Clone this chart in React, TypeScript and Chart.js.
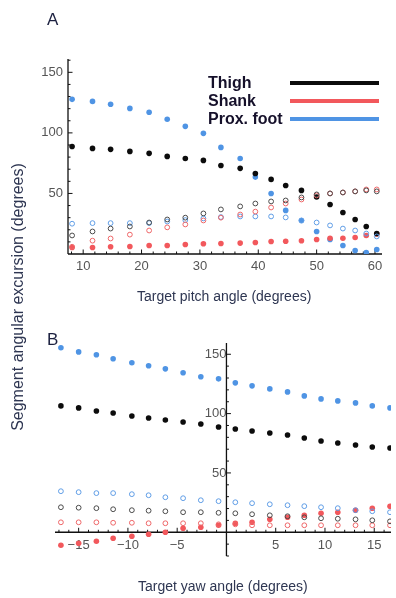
import React, { useEffect, useRef } from 'react';
import { Chart, registerables } from 'chart.js';

Chart.register(...registerables);
Chart.defaults.font.family = '"Liberation Sans", Arial, sans-serif';

// ---------- Panel A: target pitch angle ----------
const pitchAngles = [8.1, 11.6, 14.7, 18.0, 21.3, 24.4, 27.5, 30.6, 33.6, 36.9, 39.5, 42.2, 44.7, 47.4, 50.0, 52.3, 54.5, 56.6, 58.5, 60.3];
const pitchThighFilled = [88.8, 87.2, 86.4, 84.7, 83.1, 80.6, 78.9, 77.3, 73.1, 70.7, 66.5, 61.6, 56.6, 52.5, 47, 40.9, 34.3, 28.5, 22.7, 16.9];
const pitchShankFilled = [5.4, 5.4, 6, 6.2, 7, 7, 7.8, 8.5, 8.7, 9, 9.5, 10.3, 10.5, 11, 12, 13, 13, 13.6, 15.3, 16.5];
const pitchFootFilled = [127.7, 126, 123.6, 120.2, 117, 111.2, 105.4, 99.6, 88, 78.9, 63.5, 50, 36, 27.7, 18.6, 12, 7, 2.9, 1.2, 3.7];
const pitchThighOpen = [15.3, 18.6, 21, 22.7, 26, 28.5, 30, 33.5, 36.8, 39.3, 41.7, 43.4, 44.2, 46.7, 49.2, 50, 50.8, 51.7, 52.5, 51.7];
const pitchShankOpen = [6, 11, 12.8, 16, 19.4, 22, 24.4, 27.7, 30, 32.6, 35, 38.4, 41.7, 45, 48.4, 50, 50.8, 51.7, 53.3, 53.3];
const pitchFootOpen = [25, 25.5, 25.5, 25.5, 25.5, 26.8, 28, 29.4, 30.5, 31, 31, 31, 30.2, 27.7, 26, 23.6, 21, 19.4, 16.9, 14.5];

// ---------- Panel B: target yaw angle ----------
const yawAngles = [-16.8, -15.0, -13.2, -11.5, -9.6, -7.9, -6.2, -4.4, -2.6, -0.8, 0.9, 2.6, 4.4, 6.2, 7.9, 9.6, 11.3, 13.1, 14.8, 16.6];
const yawThighFilled = [106.5, 104.8, 102.2, 100.5, 98, 96.3, 94.6, 92.9, 91.2, 88.7, 87, 85.3, 83.6, 82, 79.4, 76.9, 75.2, 73.5, 71.8, 71];
const yawShankFilled = [-11, -9.3, -7.6, -5.1, -3.4, -1.7, 0, 3.4, 4.2, 5.9, 7.6, 8.4, 11, 12.6, 14.3, 16, 16.9, 18.6, 20.3, 21.9];
const yawFootFilled = [155.5, 152, 149.6, 146.2, 142.8, 140.3, 137.7, 134.4, 131, 129.3, 125.9, 123.4, 120.8, 118.3, 114.9, 112.4, 110.7, 109, 106.5, 104.8];
const yawThighOpen = [21.1, 20.7, 20.3, 19.4, 18.6, 18.2, 17.7, 16.9, 16.9, 16.4, 16, 15.2, 14.3, 13.5, 12.6, 11.8, 11.4, 10.9, 10.1, 9.2];
const yawShankOpen = [8.4, 8.4, 8.4, 8, 8, 7.6, 7.6, 7.6, 7.6, 6.7, 6.7, 5.9, 5.9, 5.9, 5.9, 5.9, 5.9, 5.9, 5.9, 5.9];
const yawFootOpen = [34.6, 33.8, 33, 33, 32.1, 31.2, 29.5, 28.7, 27, 26.2, 25.3, 24.5, 23.6, 22.8, 22, 21.1, 20.3, 18.6, 17.7, 16.9];

const legendLabels = ['Thigh', 'Shank', 'Prox. foot'];

const BLACK = '#0c0c0c';
const RED = '#f2585c';
const BLUE = '#4f94e4';
const BLACK_OPEN = '#4a4a4a';
const RED_OPEN = '#ee6668';
const BLUE_OPEN = '#5f9de6';
const legendColors = [BLACK, RED, BLUE];

const pts = (xs: number[], ys: number[]) => xs.map((x, i) => ({ x, y: ys[i] }));

const filled = (label: string, xs: number[], ys: number[], color: string) => ({
  label,
  data: pts(xs, ys),
  pointRadius: 2.8,
  pointBackgroundColor: color,
  pointBorderColor: color,
  pointBorderWidth: 0,
  showLine: false,
});
const open = (label: string, xs: number[], ys: number[], color: string) => ({
  label,
  data: pts(xs, ys),
  pointRadius: 2.4,
  pointBackgroundColor: 'rgba(0,0,0,0)',
  pointBorderColor: color,
  pointBorderWidth: 1,
  showLine: false,
});

const axesPlugin = {
  id: 'mathAxes',
  beforeDatasetsDraw(chart: any, _args: any, opts: any) {
    const { ctx, chartArea } = chart;
    const xs = chart.scales.x;
    const ys = chart.scales.y;
    const ax = opts.yAxisAtX == null ? chartArea.left : xs.getPixelForValue(opts.yAxisAtX);
    const ay = opts.xAxisAtY == null ? chartArea.bottom : ys.getPixelForValue(opts.xAxisAtY);
    ctx.save();
    ctx.strokeStyle = '#111';
    ctx.lineWidth = 1.3;
    ctx.beginPath();
    ctx.moveTo(chartArea.left, ay);
    ctx.lineTo(chartArea.right, ay);
    ctx.moveTo(ax, chartArea.top);
    ctx.lineTo(ax, chartArea.bottom);
    ctx.stroke();
    ctx.lineWidth = 1;
    ctx.beginPath();
    xs.ticks.forEach((t: any) => {
      const px = xs.getPixelForValue(t.value);
      if (Math.abs(px - ax) < 1) return;
      const len = t.label ? 4.5 : 2.5;
      ctx.moveTo(px, ay);
      ctx.lineTo(px, ay - len);
    });
    ys.ticks.forEach((t: any) => {
      const py = ys.getPixelForValue(t.value);
      if (Math.abs(py - ay) < 1) return;
      const len = t.label ? 4.5 : 2.5;
      ctx.moveTo(ax, py);
      ctx.lineTo(ax + len, py);
    });
    ctx.stroke();
    ctx.restore();
  },
};

const fmt = (v: number) => {
  const r = Math.round(v);
  return r < 0 ? '\u2212' + Math.abs(r) : String(r);
};
const isMult = (v: number, m: number) => Math.abs(v / m - Math.round(v / m)) < 1e-6;

const tickFont = { size: 13 };
const tickColor = '#555';

function makeA(canvas: HTMLCanvasElement) {
  return new Chart(canvas, {
    type: 'scatter',
    data: {
      datasets: [
        open('Thigh open', pitchAngles, pitchThighOpen, BLACK_OPEN),
        open('Shank open', pitchAngles, pitchShankOpen, RED_OPEN),
        open('Prox. foot open', pitchAngles, pitchFootOpen, BLUE_OPEN),
        filled('Thigh', pitchAngles, pitchThighFilled, BLACK),
        filled('Shank', pitchAngles, pitchShankFilled, RED),
        filled('Prox. foot', pitchAngles, pitchFootFilled, BLUE),
      ] as any,
    },
    options: {
      animation: false,
      responsive: false,
      events: [],
      layout: { padding: { left: 38, right: 14, top: 59, bottom: 26 } },
      plugins: {
        legend: { display: false },
        tooltip: { enabled: false },
        mathAxes: {},
      } as any,
      scales: {
        x: {
          type: 'linear',
          position: 'bottom',
          min: 7.4,
          max: 61.2,
          grid: { display: false, drawTicks: false },
          border: { display: false },
          ticks: {
            stepSize: 2,
            autoSkip: false,
            includeBounds: false,
            maxRotation: 0,
            padding: 5,
            font: tickFont,
            color: tickColor,
            callback: (v: any) => (isMult(Number(v), 10) ? fmt(Number(v)) : ''),
          },
          afterFit: (s: any) => { s.height = 20; },
        },
        y: {
          type: 'linear',
          position: 'left',
          min: 0,
          max: 161,
          grid: { display: false, drawTicks: false },
          border: { display: false },
          ticks: {
            stepSize: 10,
            autoSkip: false,
            includeBounds: false,
            padding: 5,
            font: tickFont,
            color: tickColor,
            callback: (v: any) => (isMult(Number(v), 50) && Number(v) !== 0 ? fmt(Number(v)) : ''),
          },
          afterFit: (s: any) => { s.width = 30; },
        },
      },
    } as any,
    plugins: [axesPlugin],
  });
}

function makeB(canvas: HTMLCanvasElement) {
  return new Chart(canvas, {
    type: 'scatter',
    data: {
      datasets: [
        open('Thigh open', yawAngles, yawThighOpen, BLACK_OPEN),
        open('Shank open', yawAngles, yawShankOpen, RED_OPEN),
        open('Prox. foot open', yawAngles, yawFootOpen, BLUE_OPEN),
        filled('Thigh', yawAngles, yawThighFilled, BLACK),
        filled('Shank', yawAngles, yawShankFilled, RED),
        filled('Prox. foot', yawAngles, yawFootFilled, BLUE),
      ] as any,
    },
    options: {
      animation: false,
      responsive: false,
      events: [],
      layout: { padding: { left: 55, right: 4, top: 43, bottom: 42 } },
      plugins: {
        legend: { display: false },
        tooltip: { enabled: false },
        mathAxes: { yAxisAtX: 0, xAxisAtY: 0 },
      } as any,
      scales: {
        x: {
          type: 'linear',
          position: { y: 0 },
          min: -17.4,
          max: 16.7,
          grid: { display: false, drawTicks: false },
          border: { display: false },
          ticks: {
            stepSize: 1,
            autoSkip: false,
            includeBounds: false,
            maxRotation: 0,
            padding: 5,
            font: tickFont,
            color: tickColor,
            callback: (v: any) => (isMult(Number(v), 5) && Number(v) !== 0 ? fmt(Number(v)) : ''),
          },
        },
        y: {
          type: 'linear',
          position: { x: 0 },
          min: -20,
          max: 159.5,
          grid: { display: false, drawTicks: false },
          border: { display: false },
          ticks: {
            stepSize: 10,
            autoSkip: false,
            includeBounds: false,
            padding: 3,
            font: tickFont,
            color: tickColor,
            callback: (v: any) => (isMult(Number(v), 50) && Number(v) > 0 ? fmt(Number(v)) : ''),
          },
        },
      },
    } as any,
    plugins: [axesPlugin],
  });
}

export default function App() {
  const refA = useRef<HTMLCanvasElement>(null);
  const refB = useRef<HTMLCanvasElement>(null);

  useEffect(() => {
    const a = makeA(refA.current!);
    const b = makeB(refB.current!);
    return () => { a.destroy(); b.destroy(); };
  }, []);

  const font = '"Liberation Sans", Arial, sans-serif';
  const titleColor = '#2e3652';

  return (
    <div style={{ position: 'absolute', left: 0, top: 0, width: 396, height: 598, background: '#fff', overflow: 'hidden', fontFamily: font }}>
      <canvas ref={refA} width={396} height={300} style={{ position: 'absolute', left: 0, top: 0 }} />
      <canvas ref={refB} width={396} height={298} style={{ position: 'absolute', left: 0, top: 300 }} />

      <div style={{ position: 'absolute', left: 47, top: 11, fontSize: 17, lineHeight: '17px', color: '#1c2140' }}>A</div>
      <div style={{ position: 'absolute', left: 47, top: 331, fontSize: 17, lineHeight: '17px', color: '#1c2140' }}>B</div>

      <div style={{ position: 'absolute', left: 18 - 160, top: 297 - 10, width: 320, height: 20, lineHeight: '20px', fontSize: 16, textAlign: 'center', transform: 'rotate(-90deg)', color: titleColor, whiteSpace: 'nowrap' }}>
        Segment angular excursion (degrees)
      </div>

      <div style={{ position: 'absolute', left: 137, top: 289, fontSize: 14, lineHeight: '14px', color: titleColor, whiteSpace: 'nowrap' }}>
        Target pitch angle (degrees)
      </div>
      <div style={{ position: 'absolute', left: 138, top: 579, fontSize: 14, lineHeight: '14px', color: titleColor, whiteSpace: 'nowrap' }}>
        Target yaw angle (degrees)
      </div>

      <div style={{ position: 'absolute', left: 208, top: 73.5, fontSize: 16, lineHeight: '18px', fontWeight: 'bold', color: '#15102a', whiteSpace: 'nowrap' }}>
        {legendLabels.map((l) => (<div key={l}>{l}</div>))}
      </div>
      {legendColors.map((c, i) => (
        <div key={c} style={{ position: 'absolute', left: 290, top: 81.2 + i * 18, width: 89, height: 3.6, background: c }} />
      ))}
    </div>
  );
}
